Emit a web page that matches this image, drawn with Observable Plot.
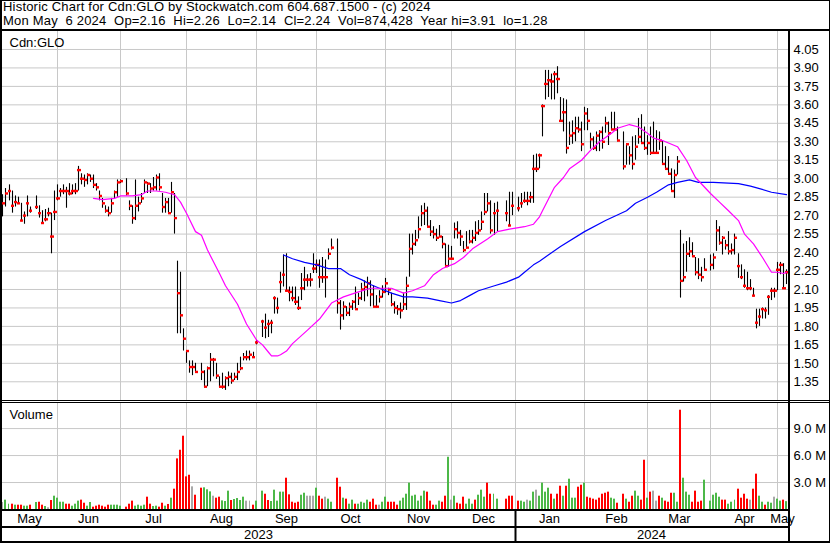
<!DOCTYPE html>
<html>
<head>
<meta charset="utf-8">
<script src="https://cdn.jsdelivr.net/npm/d3@7"></script>
<script src="https://cdn.jsdelivr.net/npm/@observablehq/plot@0.6"></script>
<style>
  html, body { margin: 0; padding: 0; background: #fff; }
  #chart { position: relative; width: 830px; height: 543px; overflow: hidden; background: #fff;
           font-family: "Liberation Sans", Arial, Helvetica, sans-serif; color: #000; }
  .hdr { position: absolute; left: 3px; font-size: 13px; line-height: 13px; letter-spacing: 0.2px; white-space: pre; }
  .ln { position: absolute; background: #000; z-index: 5; }
  .panel { position: absolute; left: 0; }
  .panel svg { display: block; overflow: visible; }
</style>
</head>
<body>
<div id="chart"></div>
<script>
// ---------------- DATA ----------------
const titleLine = "Historic Chart for Cdn:GLO by Stockwatch.com 604.687.1500 - (c) 2024";
const quoteLine = "Mon May  6 2024  Op=2.16  Hi=2.26  Lo=2.14  Cl=2.24  Vol=874,428  Year hi=3.91  lo=1.28";
const symbolLabel = "Cdn:GLO";
const volumeLabel = "Volume";

const firstDay = "2023-05-08";
const holidays = ["2023-05-22","2023-07-03","2023-08-07","2023-09-04","2023-10-09",
                  "2023-12-25","2023-12-26","2024-01-01","2024-02-19","2024-03-29"];

// daily high / low / close, one value per trading day (251 days)
const high = [
 2.87,2.92,2.95,2.90,2.86,2.85,2.80,2.73,2.86,2.77,
 2.86,2.78,2.74,2.75,2.76,2.72,2.90,2.95,2.92,2.95,2.93,2.96,2.95,2.96,3.10,3.04,3.03,3.04,3.03,3.03,2.96,2.90,2.84,2.78,2.77,2.84,2.90,2.99,2.99,
 3.00,2.82,2.78,2.99,2.85,2.88,2.99,2.97,2.96,3.01,3.03,3.04,2.88,2.84,2.84,2.97,2.88,2.33,2.24,1.78,1.60,1.52,1.52,1.50,
 1.50,1.44,1.47,1.58,1.54,1.50,1.39,1.42,1.39,1.43,1.42,1.42,1.50,1.55,1.58,1.60,1.60,1.59,1.69,
 1.85,1.90,1.85,1.85,2.04,2.03,2.24,2.38,2.39,2.12,2.12,2.12,2.04,2.23,2.28,2.22,2.23,2.39,2.34,2.34,2.36,2.34,2.43,2.51,
 2.51,2.01,2.00,1.96,1.99,2.01,2.12,2.07,2.15,2.17,2.20,2.17,2.13,2.05,2.09,2.13,2.19,2.11,2.07,2.00,
 1.97,1.99,2.07,2.20,2.55,2.55,2.58,2.69,2.78,2.80,2.77,2.66,2.61,2.59,2.62,2.53,2.47,2.46,2.45,2.64,
 2.65,2.58,2.49,2.57,2.58,2.58,2.65,2.66,2.73,2.88,2.88,2.82,2.80,2.81,
 2.82,2.89,2.89,
 2.85,2.88,2.89,2.89,2.89,3.19,3.20,3.20,3.60,3.88,3.88,3.85,3.87,3.91,3.66,3.65,3.64,3.46,3.47,3.50,
 3.50,3.46,3.58,3.57,3.37,3.34,3.38,3.39,3.42,3.50,3.46,3.54,3.54,3.42,
 3.38,3.28,3.26,3.34,3.35,3.49,3.52,3.42,3.35,3.42,3.46,3.39,3.38,3.31,3.26,3.18,3.08,3.07,3.18,2.58,
 2.47,2.49,2.52,2.48,2.36,2.35,2.28,2.35,
 2.38,2.39,2.66,2.61,2.53,2.50,2.57,2.47,2.55,2.39,2.30,2.26,2.24,2.18,2.11,1.94,1.94,1.95,1.95,2.05,
 2.11,2.11,2.32,2.32,2.31,2.26
];
const low = [
 2.69,2.77,2.82,2.72,2.77,2.80,2.65,2.63,2.69,2.72,
 2.75,2.68,2.63,2.65,2.69,2.39,2.66,2.82,2.85,2.87,2.76,2.86,2.87,2.87,2.90,2.95,2.93,2.95,2.97,2.92,2.90,2.82,2.76,2.72,2.69,2.72,2.84,2.85,2.96,
 2.86,2.74,2.63,2.66,2.73,2.80,2.88,2.88,2.88,2.90,2.90,2.90,2.72,2.72,2.72,2.72,2.55,1.74,1.74,1.60,1.50,1.42,1.40,1.43,
 1.36,1.30,1.31,1.35,1.39,1.37,1.30,1.29,1.28,1.31,1.33,1.36,1.36,1.44,1.52,1.52,1.52,1.54,1.65,
 1.71,1.70,1.71,1.74,1.90,1.90,2.07,2.12,2.08,2.00,2.00,1.97,1.93,2.01,2.09,2.12,2.12,2.23,2.23,2.11,2.15,2.03,2.34,2.42,
 1.90,1.77,1.85,1.88,1.88,1.93,1.94,1.97,2.01,2.00,2.04,1.96,1.96,1.95,1.99,2.03,2.07,2.05,1.96,1.90,
 1.89,1.86,1.93,1.93,2.20,2.38,2.45,2.51,2.61,2.62,2.61,2.53,2.51,2.49,2.53,2.43,2.28,2.28,2.34,2.51,
 2.51,2.45,2.40,2.43,2.47,2.47,2.49,2.54,2.58,2.70,2.73,2.55,2.54,2.57,
 2.65,2.61,2.70,
 2.73,2.76,2.80,2.78,2.80,2.80,3.05,3.08,3.34,3.64,3.66,3.64,3.64,3.69,3.46,3.38,3.20,3.27,3.28,3.30,
 3.37,3.22,3.39,3.39,3.24,3.23,3.22,3.22,3.24,3.37,3.27,3.39,3.39,3.30,
 3.07,3.11,3.11,3.07,3.15,3.28,3.29,3.23,3.19,3.19,3.20,3.20,3.23,3.11,3.07,3.04,2.90,2.84,3.03,2.03,
 2.16,2.24,2.36,2.36,2.21,2.18,2.16,2.26,
 2.25,2.26,2.41,2.46,2.38,2.42,2.38,2.38,2.38,2.19,2.18,2.11,2.09,2.09,2.04,1.78,1.80,1.86,1.86,1.89,
 2.01,2.03,2.09,2.22,2.11,2.14
];
const close = [
 2.80,2.88,2.90,2.78,2.81,2.80,2.66,2.70,2.80,2.74,
 2.77,2.72,2.64,2.67,2.72,2.53,2.73,2.84,2.90,2.90,2.90,2.88,2.90,2.90,3.07,3.00,2.99,3.03,3.00,2.95,2.93,2.86,2.80,2.74,2.72,2.80,2.89,2.97,2.98,
 2.88,2.78,2.68,2.78,2.80,2.84,2.97,2.96,2.92,2.93,3.01,2.93,2.77,2.81,2.72,2.89,2.68,2.07,1.89,1.70,1.60,1.47,1.47,1.43,
 1.43,1.31,1.46,1.53,1.53,1.40,1.31,1.31,1.38,1.39,1.36,1.39,1.43,1.46,1.55,1.55,1.57,1.55,1.67,
 1.84,1.79,1.82,1.83,2.03,1.95,2.16,2.22,2.09,2.08,2.03,2.00,1.95,2.11,2.18,2.18,2.18,2.27,2.30,2.20,2.20,2.20,2.39,2.44,
 1.99,1.89,1.96,1.91,1.96,2.00,1.94,2.03,2.10,2.12,2.15,2.06,1.96,1.96,2.04,2.08,2.15,2.10,1.98,1.95,
 1.94,1.93,1.98,2.13,2.43,2.47,2.50,2.59,2.72,2.74,2.61,2.57,2.55,2.52,2.53,2.47,2.29,2.35,2.35,2.59,
 2.56,2.53,2.42,2.44,2.49,2.52,2.56,2.58,2.65,2.73,2.80,2.58,2.72,2.74,
 2.72,2.62,2.78,
 2.76,2.80,2.82,2.82,2.85,3.08,3.08,3.19,3.59,3.77,3.80,3.79,3.85,3.81,3.47,3.54,3.25,3.35,3.37,3.41,
 3.40,3.28,3.53,3.47,3.32,3.25,3.35,3.38,3.30,3.45,3.37,3.40,3.40,3.31,
 3.10,3.28,3.19,3.12,3.26,3.34,3.29,3.25,3.29,3.21,3.21,3.21,3.31,3.12,3.08,3.04,2.90,3.03,3.14,2.17,
 2.20,2.39,2.41,2.37,2.24,2.22,2.20,2.26,
 2.30,2.36,2.58,2.48,2.52,2.46,2.41,2.42,2.52,2.29,2.20,2.13,2.11,2.11,2.05,1.83,1.88,1.94,1.93,2.04,
 2.09,2.09,2.26,2.30,2.11,2.24
];
// daily volume, millions of shares
const volumeMillions = [
 0.78,1.04,0.59,0.59,0.48,0.48,0.48,0.37,0.37,0.48,
 0.78,0.81,0.48,0.33,0.19,1.00,1.48,1.26,0.81,0.81,0.59,0.59,0.37,0.59,0.93,1.04,0.70,0.37,0.78,0.26,0.37,0.48,0.37,0.26,0.48,0.48,0.48,0.48,0.37,
 0.26,0.59,0.93,0.37,0.48,0.37,0.48,1.37,0.59,0.33,0.37,0.26,0.70,0.37,0.56,1.26,2.26,5.63,6.59,8.15,3.63,3.81,2.52,1.59,
 2.37,2.41,2.19,1.96,1.48,1.26,1.37,0.96,0.89,2.04,1.00,1.11,1.22,1.00,1.37,0.93,0.93,0.48,0.93,
 2.04,1.70,1.00,0.89,2.15,0.93,1.93,1.93,3.48,1.63,0.81,0.70,0.81,1.59,1.81,1.48,1.48,1.48,2.37,1.48,1.15,1.37,1.15,0.81,
 3.48,2.48,1.26,1.15,0.59,1.04,0.59,0.59,0.81,0.70,1.04,0.81,1.15,0.48,0.48,0.81,1.37,0.81,0.81,0.81,
 0.48,0.93,1.26,1.70,2.93,1.48,1.59,0.93,1.48,2.04,1.93,0.93,0.48,0.48,0.93,0.81,1.48,5.81,1.04,1.48,
 0.70,0.59,1.37,0.59,1.15,0.59,1.04,1.59,2.15,1.37,2.93,1.70,1.70,1.15,
 1.15,1.48,1.48,
 0.93,0.93,0.81,1.04,0.93,1.93,2.15,1.48,2.93,1.93,2.37,1.70,1.15,1.70,2.59,1.48,2.59,3.37,1.26,1.26,
 2.48,2.70,2.93,1.37,1.26,1.15,1.04,1.26,1.70,1.81,1.93,1.26,1.15,0.70,
 1.70,1.15,0.81,1.48,2.04,1.48,1.04,5.48,1.26,1.93,2.04,0.93,1.48,1.26,0.93,0.81,1.81,1.81,0.81,11.04,
 3.48,1.93,1.59,0.81,2.04,0.81,0.93,3.26,
 0.93,1.59,1.81,1.37,1.04,1.04,0.59,0.81,1.04,2.26,1.26,1.70,1.15,1.04,2.26,3.93,1.48,0.81,0.48,0.81,
 0.70,1.37,1.15,0.93,1.04,0.874
];
// volume bar colour: g = up day, r = down day, n = unchanged
const volumeTrend = (
 "nggrgrrggr" +
 "grrgnrggggrrgggrrggrrrrrrgggg" +
 "rrrggggrrggrrgrgrrrrrrnr" +
 "rgggnrrgggrggggnnrg" +
 "grrgggggrrrrrggnnngrrngg" +
 "rrgrggrggggrrrnggrrrrgggggggggrrrggrrgngrrrgggrgggrrgg" +
 "rrr" +
 "rggnggnggggrgrrgrgggrrgrrrrrrrrggr" +
 "rgrrggrrgrnnrgrrrggrgggrrrrg" +
 "ggggrrgggrrrrnrrggrggnggrg"
).split("");

// moving averages [date, price]
const maShort = [
 ["2023-06-19",2.84],["2023-06-22",2.83],["2023-06-28",2.84],["2023-06-30",2.86],["2023-07-06",2.86],
 ["2023-07-11",2.87],["2023-07-13",2.90],["2023-07-18",2.90],["2023-07-21",2.89],["2023-07-26",2.87],
 ["2023-07-28",2.81],["2023-08-01",2.72],["2023-08-04",2.57],["2023-08-08",2.54],["2023-08-10",2.42],
 ["2023-08-16",2.23],["2023-08-18",2.13],["2023-08-24",1.98],["2023-08-29",1.82],["2023-09-01",1.69],
 ["2023-09-05",1.65],["2023-09-07",1.59],["2023-09-08",1.56],["2023-09-12",1.56],["2023-09-13",1.57],
 ["2023-09-15",1.60],["2023-09-19",1.66],["2023-09-26",1.77],["2023-10-02",1.86],["2023-10-06",1.99],
 ["2023-10-12",2.04],["2023-10-19",2.08],["2023-10-25",2.11],["2023-10-30",2.11],["2023-11-03",2.11],
 ["2023-11-09",2.07],["2023-11-14",2.09],["2023-11-20",2.13],["2023-11-23",2.22],["2023-11-28",2.27],
 ["2023-12-04",2.31],["2023-12-07",2.36],["2023-12-12",2.43],["2023-12-19",2.51],["2023-12-22",2.57],
 ["2023-12-28",2.59],["2024-01-04",2.61],["2024-01-09",2.63],["2024-01-11",2.69],["2024-01-12",2.74],
 ["2024-01-18",2.93],["2024-01-23",3.01],["2024-01-25",3.08],["2024-01-31",3.15],["2024-02-05",3.23],
 ["2024-02-08",3.30],["2024-02-14",3.37],["2024-02-16",3.41],["2024-02-22",3.44],["2024-02-27",3.42],
 ["2024-03-01",3.37],["2024-03-05",3.33],["2024-03-08",3.31],["2024-03-15",3.26],["2024-03-20",3.15],
 ["2024-03-25",3.01],["2024-04-01",2.88],["2024-04-04",2.81],["2024-04-09",2.74],["2024-04-12",2.66],
 ["2024-04-16",2.55],["2024-04-19",2.47],["2024-04-24",2.36],["2024-04-29",2.24],["2024-05-01",2.24],
 ["2024-05-03",2.23],["2024-05-06",2.24]
];
const maLong = [
 ["2023-09-14",2.38],["2023-09-19",2.35],["2023-09-25",2.32],["2023-09-29",2.30],["2023-10-05",2.27],
 ["2023-10-11",2.27],["2023-10-16",2.22],["2023-10-20",2.18],["2023-10-25",2.14],["2023-10-30",2.11],
 ["2023-11-03",2.07],["2023-11-09",2.04],["2023-11-14",2.04],["2023-11-21",2.03],["2023-11-27",2.01],
 ["2023-12-01",1.99],["2023-12-06",2.01],["2023-12-11",2.05],["2023-12-14",2.09],["2023-12-21",2.13],
 ["2023-12-27",2.16],["2024-01-02",2.20],["2024-01-04",2.24],["2024-01-09",2.30],["2024-01-11",2.33],
 ["2024-01-22",2.45],["2024-02-01",2.57],["2024-02-12",2.66],["2024-02-21",2.74],["2024-02-26",2.80],
 ["2024-03-01",2.85],["2024-03-06",2.89],["2024-03-12",2.95],["2024-03-15",2.97],["2024-03-21",2.99],
 ["2024-03-26",2.97],["2024-04-02",2.97],["2024-04-12",2.96],["2024-04-18",2.94],["2024-04-23",2.92],
 ["2024-04-29",2.89],["2024-05-06",2.87]
];

const priceTicks = [1.35,1.50,1.65,1.80,1.95,2.10,2.25,2.40,2.55,2.70,2.85,3.00,3.15,3.30,3.45,3.60,3.75,3.90,4.05];
const volumeTicks = [3, 6, 9];
const monthStarts = ["2023-06-01","2023-07-01","2023-08-01","2023-09-01","2023-10-01","2023-11-01",
                     "2023-12-01","2024-01-01","2024-02-01","2024-03-01","2024-04-01","2024-05-01"];
const monthNames = ["May","Jun","Jul","Aug","Sep","Oct","Nov","Dec","Jan","Feb","Mar","Apr","May"];
const yearStart = "2024-01-01";
const yearNames = ["2023","2024"];

// ---------------- HELPERS ----------------
const DAY = 86400000;
const t0 = Date.parse(firstDay + "T00:00:00Z");
// position on the weekday axis (weekends fall on the preceding Friday)
function slotOf(iso) {
  const days = Math.round((Date.parse(iso + "T00:00:00Z") - t0) / DAY);
  const w = Math.floor(days / 7), r = days - 7 * w;
  return 5 * w + Math.min(r, 4);
}
const tradingDays = [];
for (let t = t0; tradingDays.length < high.length; t += DAY) {
  const dt = new Date(t), wd = dt.getUTCDay();
  if (wd === 0 || wd === 6) continue;
  const iso = dt.toISOString().slice(0, 10);
  if (holidays.includes(iso)) continue;
  tradingDays.push(iso);
}
const trendName = {g: "up", r: "down", n: "flat"};
const bars = tradingDays.map((d, i) => ({
  date: d, slot: slotOf(d), high: high[i], low: low[i], close: close[i],
  volume: volumeMillions[i], trend: trendName[volumeTrend[i]]
}));
const shortLine = maShort.map(([d, v]) => ({slot: slotOf(d), value: v}));
const longLine = maLong.map(([d, v]) => ({slot: slotOf(d), value: v}));

const xDomain = [-0.49, 260.76];
const monthSlots = monthStarts.map(slotOf);
const monthEdges = [xDomain[0], ...monthSlots, xDomain[1]];
const monthLabels = monthNames.map((m, i) => ({label: m, mid: (monthEdges[i] + monthEdges[i + 1]) / 2}));
const yearSlot = slotOf(yearStart);
const yearEdges = [xDomain[0], yearSlot, xDomain[1]];
const yearLabels = yearNames.map((y, i) => ({label: y, mid: (yearEdges[i] + yearEdges[i + 1]) / 2}));

// ---------------- LAYOUT ----------------
const FONT = '"Liberation Sans", Arial, Helvetica, sans-serif';
const GRID = "#c8c8c8";
const W = 830, ML = 1, MR = 42;
const root = document.getElementById("chart");
function addDiv(cls, css, text) {
  const el = document.createElement("div");
  el.className = cls; Object.assign(el.style, css);
  if (text !== undefined) el.textContent = text;
  root.appendChild(el); return el;
}
function addPanel(top, svg) {
  const holder = addDiv("panel", {top: top + "px"});
  holder.appendChild(svg);
}
const baseStyle = {fontFamily: FONT, fontSize: "13px", color: "#000", background: "transparent", overflow: "visible"};

addDiv("hdr", {top: "0px"}, titleLine);
addDiv("hdr", {top: "14px"}, quoteLine);

// price panel
const pricePlot = Plot.plot({
  width: W, height: 369, marginLeft: ML, marginRight: MR, marginTop: 0, marginBottom: 0,
  style: baseStyle,
  x: {domain: xDomain, round: true, axis: null},
  y: {domain: [1.198, 4.196], axis: null},
  marks: [
    Plot.gridY(priceTicks, {stroke: GRID, strokeOpacity: 1}),
    Plot.gridX(monthSlots, {stroke: GRID, strokeOpacity: 1}),
    Plot.axisY(priceTicks, {anchor: "right", tickSize: 0, tickPadding: 5, fontSize: 13, fill: "#000",
      tickFormat: d => d.toFixed(2), label: null}),
    Plot.ruleX(bars, {x: "slot", y1: "low", y2: "high", stroke: "#000", strokeWidth: 1.1}),
    Plot.ruleY(bars, {y: "close", x1: d => d.slot - 0.1, x2: d => d.slot + 0.95, stroke: "#ff0000", strokeWidth: 2.4}),
    Plot.line(longLine, {x: "slot", y: "value", stroke: "#0000ff", strokeWidth: 1.2, curve: "linear"}),
    Plot.line(shortLine, {x: "slot", y: "value", stroke: "#ff00ff", strokeWidth: 1.2, curve: "linear"}),
    Plot.text([symbolLabel], {frameAnchor: "top-left", text: d => d, textAnchor: "start", lineAnchor: "top",
      dx: 8, dy: 6, fontSize: 13, fill: "#000"})
  ]
});
addPanel(31, pricePlot);

// volume panel
const volumePlot = Plot.plot({
  width: W, height: 107, marginLeft: ML, marginRight: MR, marginTop: 0, marginBottom: 0,
  style: baseStyle,
  x: {domain: xDomain, round: true, axis: null},
  y: {domain: [0, 11.9], axis: null},
  color: {domain: ["up", "down", "flat"], range: ["#4cb848", "#ff0000", "#a8a8a8"]},
  marks: [
    Plot.gridY(volumeTicks, {stroke: GRID, strokeOpacity: 1}),
    Plot.gridX(monthSlots, {stroke: GRID, strokeOpacity: 1}),
    Plot.axisY(volumeTicks, {anchor: "right", tickSize: 0, tickPadding: 5, fontSize: 13, fill: "#000",
      tickFormat: d => d.toFixed(1) + " M", label: null}),
    Plot.rectY(bars, {x1: d => d.slot - 0.33, x2: d => d.slot + 0.33, y1: 0, y2: "volume", fill: "trend"}),
    Plot.text([volumeLabel], {frameAnchor: "top-left", text: d => d, textAnchor: "start", lineAnchor: "top",
      dx: 8, dy: 7, fontSize: 13, fill: "#000"})
  ]
});
addPanel(402, volumePlot);

// time axis rows
const axisPlot = Plot.plot({
  width: W, height: 34, marginLeft: ML, marginRight: MR, marginTop: 0, marginBottom: 0,
  style: baseStyle,
  x: {domain: xDomain, round: true, axis: null},
  marks: [
    Plot.text(monthLabels, {x: "mid", text: "label", frameAnchor: "top", lineAnchor: "middle", dy: 9.8, fontSize: 13, fill: "#000"}),
    Plot.text(yearLabels, {x: "mid", text: "label", frameAnchor: "top", lineAnchor: "middle", dy: 25.8, fontSize: 13, fill: "#000"}),
    Plot.ruleX([yearSlot], {x: d => d, stroke: "#000", strokeWidth: 2})
  ]
});
addPanel(509, axisPlot);

// frame lines
addDiv("ln", {left: "0px", top: "0px", width: "830px", height: "1px"});
addDiv("ln", {left: "0px", top: "0px", width: "2px", height: "543px"});
addDiv("ln", {left: "829px", top: "0px", width: "1px", height: "543px"});
addDiv("ln", {left: "0px", top: "541px", width: "830px", height: "2px"});
addDiv("ln", {left: "0px", top: "29px", width: "830px", height: "2px"});
addDiv("ln", {left: "788px", top: "31px", width: "2px", height: "512px"});
addDiv("ln", {left: "0px", top: "400px", width: "830px", height: "1px"});
addDiv("ln", {left: "0px", top: "402px", width: "830px", height: "1px"});
addDiv("ln", {left: "0px", top: "509px", width: "790px", height: "2px"});
addDiv("ln", {left: "0px", top: "526px", width: "790px", height: "2px"});
</script>
</body>
</html>
